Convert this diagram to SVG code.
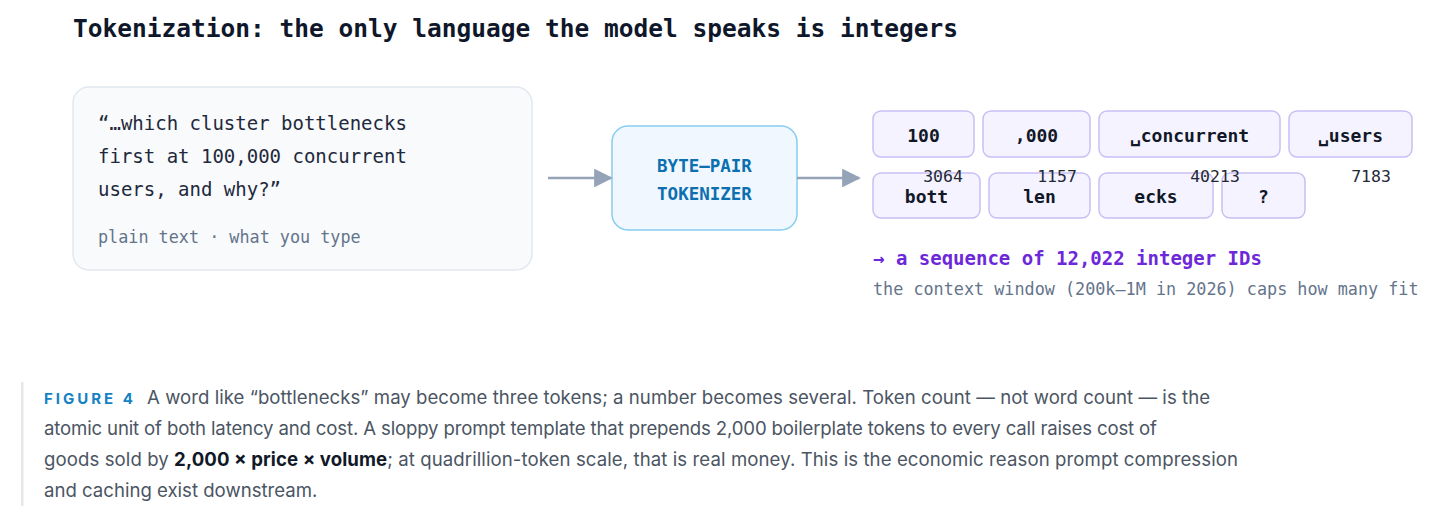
<svg xmlns="http://www.w3.org/2000/svg" width="1456" height="521" viewBox="0 0 1456 521">
<style>
.mono{font-family:"DejaVu Sans Mono","Liberation Mono",monospace}
.title{font-size:24.5px;font-weight:bold;fill:#0f172a}
.q{font-size:19px;fill:#1e293b}
.sub{font-size:16.8px;fill:#64748b}
.bpe{font-size:17.5px;font-weight:bold;fill:#0b6fb0}
.tok rect{fill:#f5f3ff;stroke:#c9bff5;stroke-width:1.5}
.tok text{font-size:18px;font-weight:bold;fill:#111827;text-anchor:middle}
.id{font-size:16.5px;fill:#1f2937;text-anchor:middle}
.seq{font-size:19px;font-weight:bold;fill:#6d28d9}
.cap{font-family:Inter,"Noto Sans",sans-serif;font-size:18.6px;fill:#4b5563}
.fig{font-family:Inter,"Noto Sans",sans-serif;font-size:15px;font-weight:bold;fill:#1482c4;letter-spacing:3px}
.conn line{stroke:#94a3b8;stroke-width:2.5}
</style>
<defs>
<marker id="ah" viewBox="0 0 10 10" refX="9" refY="5" markerWidth="8" markerHeight="7.5" markerUnits="strokeWidth" orient="auto">
<path d="M0,0 L10,5 L0,10 z" fill="#94a3b8"/>
</marker>
</defs>
<rect width="1456" height="521" fill="#ffffff"/>
<text class="mono title" x="73" y="37">Tokenization: the only language the model speaks is integers</text>

<g id="input">
<rect x="73" y="87" width="459" height="183" rx="16" fill="#f8fafc" stroke="#e2e8f0" stroke-width="1.5"/>
<text class="mono q" x="98" y="130">“…which cluster bottlenecks</text>
<text class="mono q" x="98" y="163">first at 100,000 concurrent</text>
<text class="mono q" x="98" y="196">users, and why?”</text>
<text class="mono sub" x="98" y="243">plain text · what you type</text>
</g>

<g id="tokenizer">
<rect x="612" y="126" width="185" height="104" rx="16" fill="#f0f7ff" stroke="#86cdf0" stroke-width="1.5"/>
<text class="mono bpe" x="704.5" y="172" text-anchor="middle">BYTE–PAIR</text>
<text class="mono bpe" x="704.5" y="200" text-anchor="middle">TOKENIZER</text>
</g>

<g class="conn" id="connectors">
<line x1="548" y1="178" x2="611" y2="178" marker-end="url(#ah)"/>
<line x1="797" y1="178" x2="859" y2="178" marker-end="url(#ah)"/>
</g>

<g id="tokens" class="mono">
<g id="t-100" class="tok"><rect x="873" y="111" width="101" height="46" rx="8"/><text x="923.5" y="142">100</text></g>
<g id="t-000" class="tok"><rect x="983" y="111" width="107" height="46" rx="8"/><text x="1036.5" y="142">,000</text></g>
<g id="t-concurrent" class="tok"><rect x="1099" y="111" width="181" height="46" rx="8"/><text x="1189.5" y="142">␣concurrent</text></g>
<g id="t-users" class="tok"><rect x="1289" y="111" width="123" height="46" rx="8"/><text x="1350.5" y="142">␣users</text></g>
<g id="t-bott" class="tok"><rect x="873" y="173" width="107" height="45" rx="8"/><text x="926.5" y="203">bott</text></g>
<g id="t-len" class="tok"><rect x="989" y="173" width="101" height="45" rx="8"/><text x="1039.5" y="203">len</text></g>
<g id="t-ecks" class="tok"><rect x="1099" y="173" width="114" height="45" rx="8"/><text x="1156" y="203">ecks</text></g>
<g id="t-q" class="tok"><rect x="1222" y="173" width="83" height="45" rx="8"/><text x="1263.5" y="203">?</text></g>
<text class="id" x="943" y="182">3064</text>
<text class="id" x="1057" y="182">1157</text>
<text class="id" x="1215" y="182">40213</text>
<text class="id" x="1371" y="182">7183</text>
</g>

<g id="result" class="mono">
<text class="seq" x="873" y="265">→ a sequence of 12,022 integer IDs</text>
<text class="sub" x="873" y="295">the context window (200k–1M in 2026) caps how many fit</text>
</g>

<g id="caption">
<rect x="21" y="382" width="2.5" height="124" fill="#e5e7eb"/>
<text class="fig" x="44" y="404">FIGURE 4</text>
<text class="cap" x="147" y="404" textLength="1063" lengthAdjust="spacing">A word like “bottlenecks” may become three tokens; a number becomes several. Token count — not word count — is the</text>
<text class="cap" x="44" y="435" textLength="1113" lengthAdjust="spacing">atomic unit of both latency and cost. A sloppy prompt template that prepends 2,000 boilerplate tokens to every call raises cost of</text>
<text class="cap" x="44" y="466" textLength="1194" lengthAdjust="spacing">goods sold by <tspan font-weight="bold" fill="#111827">2,000 × price × volume</tspan>; at quadrillion-token scale, that is real money. This is the economic reason prompt compression</text>
<text class="cap" x="44" y="497">and caching exist downstream.</text>
</g>
</svg>
